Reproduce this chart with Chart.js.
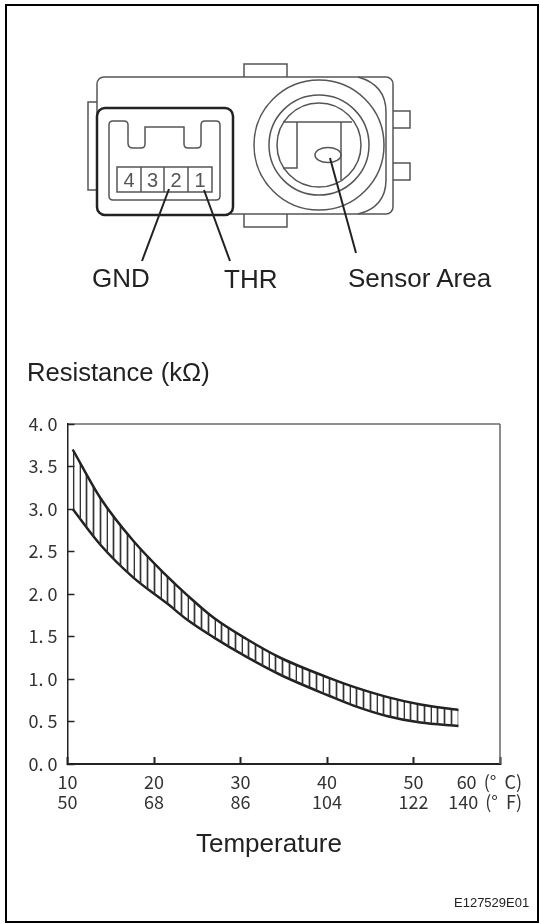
<!DOCTYPE html>
<html>
<head>
<meta charset="utf-8">
<title>Resistance vs Temperature</title>
<script src="https://cdn.jsdelivr.net/npm/chart.js@4"></script>
<style>
  html, body { margin: 0; padding: 0; background: #fff; }
  #wrap { position: relative; width: 540px; height: 924px; overflow: hidden; }
  #frame { position: absolute; left: 5px; top: 4px; width: 530px; height: 915px; border: 2.5px solid #000; }
  #resChart { position: absolute; left: 0; top: 0; }
  #part { position: absolute; left: 0; top: 0; }
  .lbl { position: absolute; font-family: "Liberation Sans", Arial, sans-serif; font-size: 26px; line-height: 28px; color: #222; white-space: pre; }
  .unit { font-family: "Noto Sans CJK JP", sans-serif; font-size: 18px; line-height: 20px; color: #333; text-align: right; }
  .unit span { display: inline-block; }
</style>
</head>
<body>
<div id="wrap">
  <div id="frame"></div>
  <canvas id="resChart" width="540" height="924"></canvas>

  <svg id="part" width="540" height="300" fill="none" stroke="#555" stroke-width="1.5">
    <!-- body and tabs -->
    <path d="M244 77V64H287V77M244 214V227H287V214M393 111H410V128H393M393 163H410V180H393M97 102H88V190H97"/>
    <rect x="97" y="77" width="296" height="137" rx="7"/>
    <path d="M358 77C376 82 386 94 386 112V180C386 198 376 210 358 214"/>
    <!-- lens -->
    <circle cx="319" cy="145" r="65"/>
    <circle cx="319" cy="145" r="50"/>
    <circle cx="319" cy="145" r="42"/>
    <path d="M283 122H352M297 122V168H283M341 122V180"/>
    <ellipse cx="328" cy="155" rx="13" ry="7.5"/>
    <!-- connector -->
    <rect x="97" y="108" width="136" height="107" rx="8" fill="#fff" stroke="#222" stroke-width="2.5"/>
    <path d="M113 121H124Q128 121 128 125V143Q128 148 133 148H141Q145 148 145 144V127H184V144Q184 148 188 148H197Q201 148 201 144V125Q201 121 205 121H216Q220 121 220 125V196Q220 200 216 200H113Q109 200 109 196V125Q109 121 113 121Z"/>
    <rect x="117" y="167" width="95" height="25"/>
    <path d="M141 167V192M164 167V192M188 167V192"/>
    <g fill="#555" stroke="none" font-family="Liberation Sans, sans-serif" font-size="20" text-anchor="middle">
      <text x="129" y="187">4</text>
      <text x="152.500" y="187">3</text>
      <text x="176" y="187">2</text>
      <text x="200" y="187">1</text>
    </g>
    <!-- leaders -->
    <path d="M169 189L142 261M204 190L230 261M330 158L356 253" stroke="#222" stroke-width="2"/>
  </svg>

  <div class="lbl" style="left:92px;top:264px">GND</div>
  <div class="lbl" style="left:224px;top:265px">THR</div>
  <div class="lbl" style="left:348px;top:264px">Sensor Area</div>
  <div class="lbl" style="left:27px;top:358px;font-size:25.6px">Resistance (kΩ)</div>
  <div class="lbl" style="left:196px;top:829px">Temperature</div>
  <div class="lbl" style="left:454px;top:895px;font-size:13px;line-height:16px">E127529E01</div>
  <div class="lbl unit" style="right:18px;top:771px"><span style="margin-right:3px">60 </span><span style="margin-right:4px">(° </span>C)</div>
  <div class="lbl unit" style="right:18px;top:791px"><span style="margin-right:3px">140 </span><span style="margin-right:4px">(° </span>F)</div>
</div>

<script>
// values
const temps = [10.6, 13.8, 17.65, 21.5, 23.8, 26.9, 30.7, 34.6, 40.3, 43, 46.9, 50.8, 55.2];
const upperKohm = [3.70, 3.13, 2.62, 2.21, 1.99, 1.72, 1.47, 1.25, 1.01, 0.91, 0.79, 0.70, 0.636];
const lowerKohm = [3.00, 2.58, 2.19, 1.89, 1.70, 1.49, 1.26, 1.05, 0.80, 0.69, 0.565, 0.487, 0.448];
const celsiusTicks = ['10', '20', '30', '40', '50', ''];
const fahrenheitTicks = ['50', '68', '86', '104', '122', ''];
const kohmTicks = ['0. 0', '0. 5', '1. 0', '1. 5', '2. 0', '2. 5', '3. 0', '3. 5', '4. 0'];

function hatchPattern() {
  // vertical hatch, 4 lines in 27px so they land on the same spots as the drawing
  const c = document.createElement('canvas');
  c.width = 27;
  c.height = 4;
  const g = c.getContext('2d');
  g.fillStyle = '#333';
  [5, 12, 19, 26].forEach(x => g.fillRect(x - 0.35, 0, 1.7, 4));
  return g.createPattern(c, 'repeat');
}

const plotBox = {
  id: 'plotBox',
  afterDraw(chart) {
    const { ctx, chartArea: a } = chart;
    ctx.save();
    ctx.strokeStyle = '#222';
    ctx.lineWidth = 1;
    ctx.beginPath();
    ctx.moveTo(a.left, a.top);
    ctx.lineTo(a.right, a.top);
    ctx.stroke();
    ctx.strokeStyle = '#666';
    ctx.lineWidth = 1.5;
    ctx.beginPath();
    ctx.moveTo(a.right, a.top);
    ctx.lineTo(a.right, a.bottom);
    ctx.stroke();
    ctx.restore();
  }
};

const tickFont = { family: '"Noto Sans CJK JP", sans-serif', size: 18, lineHeight: 1.11 };

new Chart(document.getElementById('resChart'), {
  type: 'line',
  data: {
    datasets: [
      {
        label: 'Upper limit',
        data: temps.map((t, i) => ({ x: t, y: upperKohm[i] })),
        borderColor: '#222',
        borderWidth: 2.5,
        backgroundColor: hatchPattern(),
        fill: '+1',
        pointRadius: 0,
        cubicInterpolationMode: 'monotone'
      },
      {
        label: 'Lower limit',
        data: temps.map((t, i) => ({ x: t, y: lowerKohm[i] })),
        borderColor: '#222',
        borderWidth: 2.5,
        fill: false,
        pointRadius: 0,
        cubicInterpolationMode: 'monotone'
      }
    ]
  },
  plugins: [plotBox],
  options: {
    responsive: false,
    animation: false,
    layout: { padding: { top: 424, right: 40, left: 0, bottom: 0 } },
    plugins: { legend: { display: false }, tooltip: { enabled: false } },
    scales: {
      x: {
        type: 'linear',
        min: 10,
        max: 60,
        afterFit(s) { s.height = 160; s.paddingRight = 0; s.paddingLeft = 0; },
        border: { color: '#222', width: 2 },
        grid: { drawOnChartArea: false, tickLength: -7, tickColor: '#222', tickWidth: 2 },
        ticks: {
          stepSize: 10,
          maxRotation: 0,
          autoSkip: false,
          padding: 15,
          color: '#333',
          font: tickFont,
          callback: (v, i) => [celsiusTicks[i], fahrenheitTicks[i]]
        }
      },
      y: {
        min: 0,
        max: 4,
        afterFit(s) { s.width = 67.5; },
        border: { color: '#222', width: 1.5 },
        grid: { drawOnChartArea: false, tickLength: -7, tickColor: '#222', tickWidth: 1.5 },
        ticks: {
          stepSize: 0.5,
          padding: 17,
          color: '#333',
          font: tickFont,
          callback: (v, i) => kohmTicks[i]
        }
      }
    }
  }
});
</script>
</body>
</html>
